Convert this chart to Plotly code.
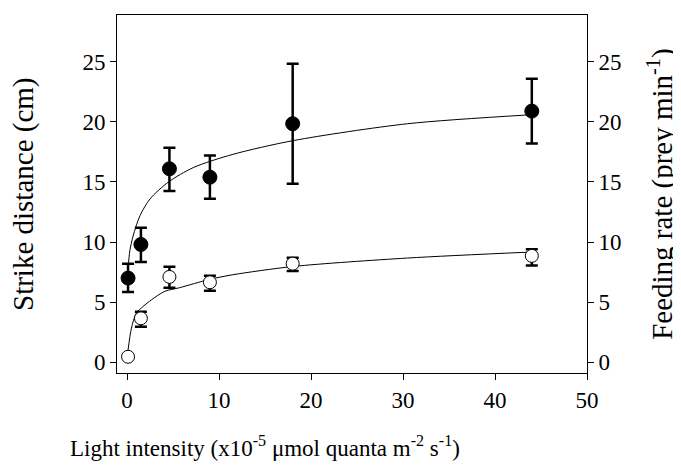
import plotly.graph_objects as go

# Light intensity levels
light_x = [0.1, 1.5, 4.6, 9.0, 18.0, 44.0]

# Strike distance (filled circles, left axis)
strike_mean = [7.0, 9.8, 16.1, 15.4, 19.85, 20.9]
strike_upper = [8.2, 11.2, 17.85, 17.2, 24.85, 23.6]
strike_lower = [5.85, 8.35, 14.25, 13.6, 14.85, 18.2]

# Feeding rate (open circles, right axis)
feed_mean = [0.45, 3.65, 7.1, 6.65, 8.2, 8.85]
feed_upper = [0.45, 4.2, 7.95, 7.2, 8.7, 9.4]
feed_lower = [0.45, 2.95, 6.2, 5.95, 7.6, 8.05]

# Fitted curves
strike_fit_x = [0.1, 0.3, 0.65, 1.4, 2.5, 4.5, 7.2, 11.5, 18.1, 30.5, 44.0]
strike_fit_y = [7.8, 9.3, 10.5, 12.2, 13.6, 15.0, 16.2, 17.3, 18.45, 19.85, 20.6]
feed_fit_x = [0.1, 0.47, 1.0, 1.74, 2.64, 4.1, 5.7, 9.0, 11.5, 18.1, 30.5, 44.0]
feed_fit_y = [1.0, 2.83, 4.08, 4.64, 5.19, 5.9, 6.2, 6.9, 7.28, 7.97, 8.67, 9.17]

x_ticks = [0, 10, 20, 30, 40, 50]
y_ticks = [0, 5, 10, 15, 20, 25]

x_title = "Light intensity (x10<sup>-5</sup> \u03bcmol quanta m<sup>-2</sup> s<sup>-1</sup>)"
y_title = "Strike distance (cm)"
y2_title = "Feeding rate (prey min<sup>-1</sup>)"

FONT = "Liberation Serif, Times New Roman, serif"
TICKFONT = dict(family=FONT, size=23, color="black")

fig = go.Figure()

fig.add_trace(go.Scatter(x=strike_fit_x, y=strike_fit_y, mode="lines",
                         line=dict(color="black", width=1, shape="spline", smoothing=0.8),
                         showlegend=False, hoverinfo="skip"))
fig.add_trace(go.Scatter(x=feed_fit_x, y=feed_fit_y, mode="lines", yaxis="y2",
                         line=dict(color="black", width=1, shape="spline", smoothing=0.8),
                         showlegend=False, hoverinfo="skip"))

fig.add_trace(go.Scatter(
    x=light_x, y=strike_mean, mode="markers",
    marker=dict(symbol="circle", size=14, color="black", line=dict(color="black", width=1)),
    error_y=dict(type="data", symmetric=False,
                 array=[u - m for u, m in zip(strike_upper, strike_mean)],
                 arrayminus=[m - l for m, l in zip(strike_mean, strike_lower)],
                 color="black", thickness=2.5, width=6),
    showlegend=False))

fig.add_trace(go.Scatter(
    x=light_x, y=feed_mean, mode="markers", yaxis="y2",
    marker=dict(symbol="circle", size=13, color="white", line=dict(color="black", width=1)),
    error_y=dict(type="data", symmetric=False,
                 array=[u - m for u, m in zip(feed_upper, feed_mean)],
                 arrayminus=[m - l for m, l in zip(feed_mean, feed_lower)],
                 color="black", thickness=2.5, width=6),
    showlegend=False))

fig.update_layout(
    width=681, height=471,
    margin=dict(l=109, r=102, t=7, b=106),
    paper_bgcolor="white", plot_bgcolor="white",
    font=dict(family=FONT, color="black", size=23),
    xaxis=dict(range=[-1.1, 50], tickvals=x_ticks, mirror=True,
               showgrid=False, zeroline=False, showline=True, linecolor="black",
               linewidth=1, ticks="outside", ticklen=6, tickcolor="black",
               tickfont=TICKFONT, ticklabelstandoff=0),
    yaxis=dict(range=[-0.9, 28.9], tickvals=y_ticks,
               showgrid=False, zeroline=False, showline=True, linecolor="black",
               linewidth=1, ticks="outside", ticklen=6, tickcolor="black",
               tickfont=TICKFONT),
    yaxis2=dict(range=[-0.9, 28.9], tickvals=y_ticks, overlaying="y", side="right",
                showgrid=False, zeroline=False, showline=True, linecolor="black",
                linewidth=1, ticks="outside", ticklen=6, tickcolor="black",
                tickfont=TICKFONT),
    annotations=[
        dict(text=x_title, xref="paper", yref="paper", x=0.315, y=-0.204,
             xanchor="center", yanchor="middle", showarrow=False,
             font=dict(family=FONT, size=23, color="black")),
        dict(text=y_title, xref="paper", yref="paper", x=-0.200, y=0.5,
             xanchor="center", yanchor="middle", showarrow=False, textangle=-90,
             font=dict(family=FONT, size=29, color="black")),
        dict(text=y2_title, xref="paper", yref="paper", x=1.155, y=0.5,
             xanchor="center", yanchor="middle", showarrow=False, textangle=-90,
             font=dict(family=FONT, size=29, color="black")),
    ],
)

fig.write_html("out.html")
